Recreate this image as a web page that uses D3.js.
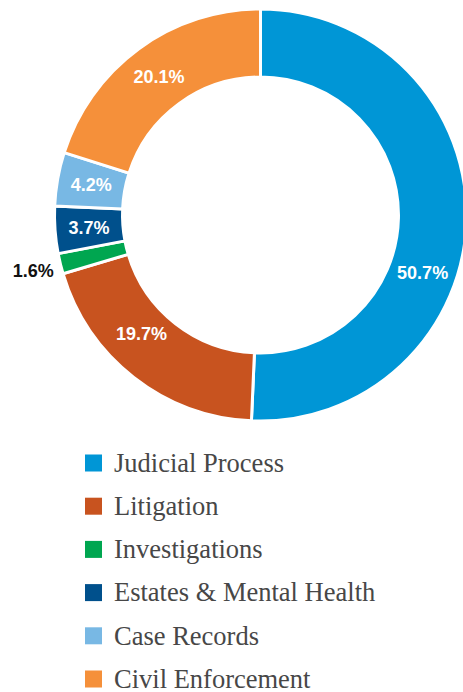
<!DOCTYPE html>
<html>
<head>
<meta charset="utf-8">
<script src="https://cdn.jsdelivr.net/npm/d3@7"></script>
<style>
  body { margin: 0; background: #fff; }
  svg { display: block; }
</style>
</head>
<body>
<svg id="chart" width="463" height="692"></svg>
<script>
// case share by division, donut + legend underneath

var categories = ["Judicial Process", "Litigation", "Investigations", "Estates & Mental Health", "Case Records", "Civil Enforcement"];
var values = [50.7, 19.7, 1.6, 3.7, 4.2, 20.1];
var labels = ["50.7%", "19.7%", "1.6%", "3.7%", "4.2%", "20.1%"];
var colors = ["#0096d6", "#c8531f", "#00a650", "#00508c", "#78b8e4", "#f5903a"];

var svg = d3.select("#chart"),
    cx = 260.5, cy = 215,
    outerR = 206, innerR = 138;

var z = d3.scaleOrdinal().domain(categories).range(colors);

var data = categories.map(function(c, i) { return {name: c, value: values[i], label: labels[i]}; });

var pie = d3.pie().sort(null).value(function(d) { return d.value; });
var arc = d3.arc().innerRadius(innerR).outerRadius(outerR);

var g = svg.append("g").attr("transform", "translate(" + cx + "," + cy + ")");
var arcs = pie(data);

g.selectAll("path")
    .data(arcs)
    .enter().append("path")
    .attr("d", arc)
    .attr("fill", function(d) { return z(d.data.name); })
    .attr("stroke", "#fff")
    .attr("stroke-width", 3);

// labels: small slices go outside in black, the two first ones sit a bit further along their arc
function labelPos(d, i) {
    var small = d.data.value < 2;
    var t = i < 2 ? 0.6 : 0.5;
    var a = d.startAngle + (d.endAngle - d.startAngle) * t;
    var r = small ? outerR + 28 : (outerR + innerR) / 2 - (i == 1 ? 4 : 0);
    return [r * Math.sin(a), -r * Math.cos(a)];
}

g.selectAll("text")
    .data(arcs)
    .enter().append("text")
    .attr("x", function(d, i) { return labelPos(d, i)[0]; })
    .attr("y", function(d, i) { return labelPos(d, i)[1]; })
    .attr("dy", "0.36em")
    .attr("text-anchor", "middle")
    .attr("font-family", "Liberation Sans, Arial, sans-serif")
    .attr("font-weight", "bold")
    .attr("font-size", 18)
    .attr("fill", function(d) { return d.data.value < 2 ? "#111" : "#fff"; })
    .text(function(d) { return d.data.label; });

// legend
var ly = d3.scalePoint().domain(categories).range([463, 679]);

var leg = svg.append("g").selectAll("g")
    .data(categories)
    .enter().append("g")
    .attr("transform", function(d) { return "translate(85," + ly(d) + ")"; });

leg.append("rect")
    .attr("x", 0).attr("y", -8.5)
    .attr("width", 17).attr("height", 17)
    .attr("fill", function(d) { return z(d); });

leg.append("text")
    .attr("x", 29)
    .attr("dy", "0.33em")
    .attr("font-family", "Liberation Serif, Times New Roman, serif")
    .attr("font-size", 26.5)
    .attr("fill", "#474747")
    .text(function(d) { return d; });
</script>
</body>
</html>
